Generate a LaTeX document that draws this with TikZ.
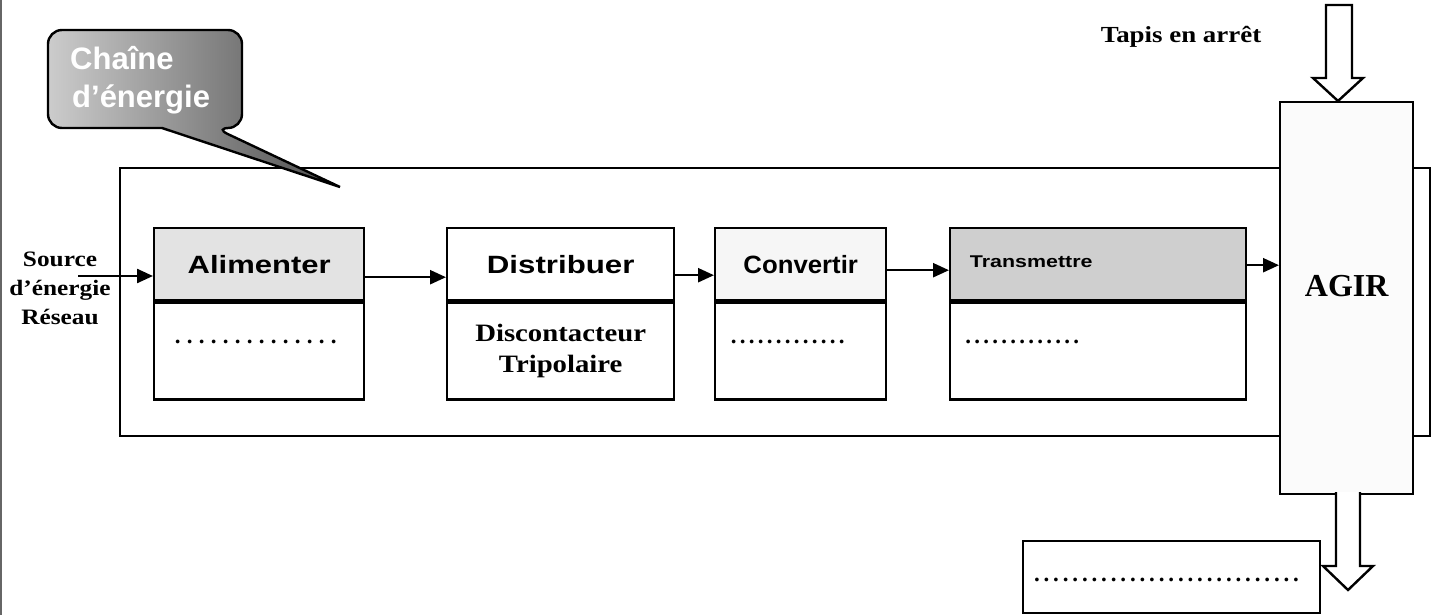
\documentclass[tikz,border=0pt]{standalone}
\usepackage{fontspec}
\usepackage{graphicx}
\setmainfont{Liberation Serif}
\newfontfamily\headfont{Liberation Sans}
\usetikzlibrary{arrows.meta,calc}

% horizontally widened text
\newcommand\stretchtxt[2]{\scalebox{#1}[1]{#2}}
% a row of #1 dots, one every #2 pt
\newcommand\dotrow[2]{\hbox to \dimexpr #2pt*#1\relax{\xleaders\hbox to #2pt{\hss.\hss}\hfill}}

\begin{document}
\begin{tikzpicture}[x=1pt,y=-1pt,
  fnbox/.style={draw, line width=2.4pt, inner sep=0pt, anchor=north west},
  hdr/.style={fnbox, minimum height=72pt, font=\headfont\bfseries\fontsize{25}{30}\selectfont},
  body/.style={fnbox, minimum height=97pt, align=center, font=\bfseries\fontsize{25}{31}\selectfont},
  dotline/.style={inner sep=0pt, font=\bfseries\fontsize{23}{26}\selectfont},
  flow/.style={draw, line width=2.4pt, -{Triangle[length=16pt,width=14pt]}},
  bigarrow/.style={draw, line width=2.4pt, fill=white, line join=miter},
  bubbletext/.style={anchor=base west, text=white, inner sep=0pt, font=\headfont\bfseries\fontsize{31}{37}\selectfont},
  serifbold/.style={inner sep=0pt, font=\bfseries\fontsize{#1}{#1}\selectfont}
]
\useasboundingbox (0,0) rectangle (1439,615);

% page edge
\draw[black!60, line width=1.5pt] (1,0) -- (1,615);

% frame of the energy chain
\draw[line width=2.4pt] (120,168) rectangle (1430,436);

% speech bubble
\shadedraw[line width=2.4pt, left color=gray!40, right color=black!70]
  (48,79) [rounded corners=14pt] -- (48,30) -- (242,30) -- (242,128) -- (215,128)
  [sharp corners] -- (340,187) -- (162,128)
  [rounded corners=14pt] -- (48,128) -- cycle;
\node[bubbletext] (bubA) at (70,70) {Chaîne};
\node[bubbletext] (bubB) at (72,107) {d’énergie};

% function blocks
\node[hdr, fill=gray!22, minimum width=210pt] (alim) at (153,227) {\stretchtxt{1.24}{Alimenter}};
\node[body, minimum width=210pt] (alimB) at (alim.south west) {};
\node[dotline] (alimD) at ([xshift=-3.5pt,yshift=9.5pt]alimB.center) {\dotrow{14}{12}};

\node[hdr, fill=white, minimum width=227pt] (distr) at (446,227) {\stretchtxt{1.25}{Distribuer}};
\node[body, minimum width=227pt] (distrB) at (distr.south west) {\stretchtxt{1.15}{Discontacteur}\\\stretchtxt{1.15}{Tripolaire}};

\node[hdr, fill=gray!7, minimum width=171pt] (conv) at (714,227) {\stretchtxt{1.03}{Convertir}};
\node[body, minimum width=171pt] (convB) at (conv.south west) {};
\node[dotline] (convD) at ([xshift=-13pt,yshift=9.5pt]convB.center) {\dotrow{13}{9}};

\node[hdr, fill=gray!38, minimum width=296pt, font=\headfont\bfseries\fontsize{17}{20}\selectfont] (trans) at (949,227)
  {\raisebox{5pt}{\stretchtxt{1.26}{Transmettre}}\hspace*{134pt}};
\node[body, minimum width=296pt] (transB) at (trans.south west) {};
\node[dotline] (transD) at ([xshift=-76pt,yshift=9.5pt]transB.center) {\dotrow{13}{9}};

% actuator
\node[fnbox, fill=gray!3, minimum width=133pt, minimum height=392pt] (agir) at (1279,101) {};
\node[serifbold=32] (agirT) at ([yshift=12pt]agir.center) {AGIR};

% input
\node[align=center, inner sep=0pt, font=\bfseries\fontsize{22}{29}\selectfont] (src) at (60,288)
  {\stretchtxt{1.15}{Source}\\\stretchtxt{1.15}{d’énergie}\\\stretchtxt{1.15}{Réseau}};
\coordinate (srcStart) at (78,276);

% energy flow
\draw[flow] (srcStart) -- (srcStart -| alim.west);
\draw[flow] ([yshift=-13pt]alim.east) -- ([yshift=-13pt]distr.west);
\draw[flow] ([yshift=-11pt]distr.east) -- ([yshift=-11pt]conv.west);
\draw[flow] ([yshift=-6pt]conv.east) -- ([yshift=-6pt]trans.west);
\draw[flow] ([yshift=-1pt]trans.east) -- ([yshift=-1pt]trans.east -| agir.west);

% material in
\node[serifbold=23, anchor=base] (tapis) at (1181,43) {\stretchtxt{1.17}{Tapis en arrêt}};
\draw[bigarrow] (1326,5) -- (1352,5) -- (1352,78) -- (1363,78) -- (1338,101)
  -- (1313,78) -- (1326,78) -- cycle;

% material out
\draw[bigarrow] (1336,492) -- (1336,566) -- (1323,566) -- (1348,590) -- (1373,566)
  -- (1360,566) -- (1360,492);
\node[draw, line width=2.4pt, minimum width=297pt, minimum height=72pt, inner sep=0pt] (outBox) at (1171.5,577) {};
\node[dotline] (outD) at ([xshift=-5pt,yshift=-3pt]outBox.center) {\dotrow{28}{9.6}};
\end{tikzpicture}
\end{document}
